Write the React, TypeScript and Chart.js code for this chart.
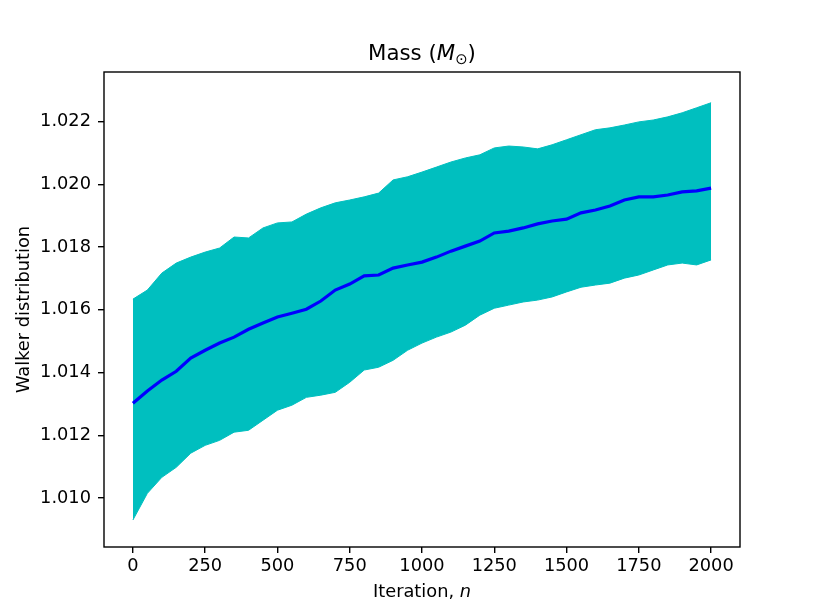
import React, { useEffect, useRef } from 'react';
import { Chart, registerables } from 'chart.js';

Chart.register(...registerables);

// iteration steps
const iterations = [
  0, 50, 100, 150, 200, 250, 300, 350, 400, 450,
  500, 550, 600, 650, 700, 750, 800, 850, 900, 950,
  1000, 1050, 1100, 1150, 1200, 1250, 1300, 1350, 1400, 1450,
  1500, 1550, 1600, 1650, 1700, 1750, 1800, 1850, 1900, 1950, 2000
];

// top edge of the walker spread
const upperEdge = [
  1.01634, 1.01663, 1.01717, 1.01749, 1.01768, 1.01784, 1.01797, 1.01832, 1.01829, 1.01861,
  1.01877, 1.01880, 1.01905, 1.01925, 1.01941, 1.01950, 1.01960, 1.01972, 1.02014, 1.02024,
  1.02039, 1.02055, 1.02071, 1.02084, 1.02094, 1.02116, 1.02122, 1.02119, 1.02113, 1.02126,
  1.02142, 1.02158, 1.02174, 1.02180, 1.02189, 1.02199, 1.02205, 1.02215, 1.02228, 1.02244, 1.02260
];

// bottom edge of the walker spread
const lowerEdge = [
  1.00930, 1.01015, 1.01066, 1.01098, 1.01143, 1.01168, 1.01184, 1.01210, 1.01216, 1.01248,
  1.01280, 1.01296, 1.01321, 1.01328, 1.01337, 1.01369, 1.01408, 1.01417, 1.01439, 1.01471,
  1.01494, 1.01513, 1.01529, 1.01551, 1.01583, 1.01605, 1.01615, 1.01625, 1.01631, 1.01641,
  1.01657, 1.01672, 1.01679, 1.01685, 1.01701, 1.01711, 1.01727, 1.01743, 1.01749, 1.01743, 1.01759
];

// mean of the walkers
const walkerMean = [
  1.01302, 1.01341, 1.01376, 1.01404, 1.01446, 1.01471, 1.01494, 1.01513, 1.01538, 1.01558,
  1.01577, 1.01589, 1.01602, 1.01628, 1.01663, 1.01682, 1.01708, 1.01711, 1.01733, 1.01743,
  1.01752, 1.01768, 1.01787, 1.01803, 1.01819, 1.01845, 1.01851, 1.01861, 1.01874, 1.01883,
  1.01889, 1.01909, 1.01918, 1.01931, 1.01950, 1.01960, 1.01960, 1.01966, 1.01976, 1.01979, 1.01988
];

const xTicks = [0, 250, 500, 750, 1000, 1250, 1500, 1750, 2000];
const yTicks = [1.010, 1.012, 1.014, 1.016, 1.018, 1.020, 1.022];

const FONT = "'DejaVu Sans', sans-serif";
const TICK_SIZE = 17.8;
const TITLE_SIZE = 21.3;

const toPoints = (ys: number[]) => ys.map((y, i) => ({ x: iterations[i], y }));

// title, axis labels (with mathtext-like italics) and the axes frame
const textPlugin = {
  id: 'mplText',
  afterDraw(chart: Chart) {
    const { ctx, chartArea } = chart;
    const { left, right, top, bottom } = chartArea;
    const cx = (left + right) / 2;
    ctx.save();
    ctx.strokeStyle = '#000';
    ctx.lineWidth = 1.4;
    ctx.strokeRect(left, top, right - left, bottom - top);

    ctx.fillStyle = '#000';
    ctx.textBaseline = 'alphabetic';
    ctx.textAlign = 'left';

    // title: Mass (M_odot)
    const parts = [
      { t: 'Mass (', f: `${TITLE_SIZE}px ${FONT}`, dy: 0 },
      { t: 'M', f: `italic ${TITLE_SIZE}px ${FONT}`, dy: 0 },
      { t: '\u2299', f: `${(TITLE_SIZE * 0.7).toFixed(1)}px ${FONT}`, dy: 4 },
      { t: ')', f: `${TITLE_SIZE}px ${FONT}`, dy: 0 }
    ];
    let w = 0;
    parts.forEach(p => { ctx.font = p.f; w += ctx.measureText(p.t).width; });
    let x = cx - w / 2;
    const titleY = 60;
    parts.forEach(p => {
      ctx.font = p.f;
      ctx.fillText(p.t, x, titleY + p.dy);
      x += ctx.measureText(p.t).width;
    });

    // x label: Iteration, n
    ctx.font = `${TICK_SIZE}px ${FONT}`;
    const a = 'Iteration, ';
    const wa = ctx.measureText(a).width;
    ctx.font = `italic ${TICK_SIZE}px ${FONT}`;
    const wb = ctx.measureText('n').width;
    const lx = cx - (wa + wb) / 2;
    ctx.font = `${TICK_SIZE}px ${FONT}`;
    ctx.fillText(a, lx, 597);
    ctx.font = `italic ${TICK_SIZE}px ${FONT}`;
    ctx.fillText('n', lx + wa, 597);

    // y label
    ctx.translate(29, (top + bottom) / 2);
    ctx.rotate(-Math.PI / 2);
    ctx.font = `${TICK_SIZE}px ${FONT}`;
    ctx.textAlign = 'center';
    ctx.fillText('Walker distribution', 0, 0);
    ctx.restore();
  }
};

export default function App() {
  const canvasRef = useRef<HTMLCanvasElement>(null);
  const chartRef = useRef<Chart | null>(null);

  useEffect(() => {
    if (!canvasRef.current) return;
    if (chartRef.current) chartRef.current.destroy();

    chartRef.current = new Chart(canvasRef.current, {
      type: 'line',
      data: {
        datasets: [
          {
            label: 'lower',
            data: toPoints(lowerEdge),
            borderColor: '#00bfbf',
            borderWidth: 1,
            pointRadius: 0,
            fill: false,
            order: 2
          },
          {
            label: 'upper',
            data: toPoints(upperEdge),
            borderColor: '#00bfbf',
            borderWidth: 1,
            backgroundColor: '#00bfbf',
            pointRadius: 0,
            fill: '-1',
            order: 1
          },
          {
            label: 'mean',
            data: toPoints(walkerMean),
            borderColor: '#0000ff',
            borderWidth: 3.2,
            pointRadius: 0,
            fill: false,
            order: 0
          }
        ]
      },
      options: {
        animation: false,
        responsive: true,
        maintainAspectRatio: false,
        layout: { padding: { top: 72, right: 82, left: 0, bottom: 0 } },
        plugins: {
          legend: { display: false },
          tooltip: { enabled: false },
          title: { display: false }
        },
        scales: {
          x: {
            type: 'linear',
            min: -100,
            max: 2100,
            afterBuildTicks: (s: any) => { s.ticks = xTicks.map(v => ({ value: v })); },
            afterFit: (s: any) => { s.height = 68; },
            grid: { drawOnChartArea: false, tickLength: 6, color: '#000', lineWidth: 1.4 },
            border: { display: false },
            ticks: {
              color: '#000',
              font: { family: FONT, size: TICK_SIZE },
              padding: 3,
              maxRotation: 0,
              autoSkip: false,
              callback: (v: any) => String(v)
            }
          },
          y: {
            type: 'linear',
            min: 1.00844,
            max: 1.02358,
            afterBuildTicks: (s: any) => { s.ticks = yTicks.map(v => ({ value: v })); },
            afterFit: (s: any) => { s.width = 104; },
            grid: { drawOnChartArea: false, tickLength: 6, color: '#000', lineWidth: 1.4 },
            border: { display: false },
            ticks: {
              color: '#000',
              font: { family: FONT, size: TICK_SIZE },
              padding: 7,
              autoSkip: false,
              callback: (v: any) => Number(v).toFixed(3)
            }
          }
        }
      },
      plugins: [textPlugin]
    });

    return () => {
      if (chartRef.current) {
        chartRef.current.destroy();
        chartRef.current = null;
      }
    };
  }, []);

  return (
    <div style={{ position: 'absolute', left: 0, top: 0, width: 822, height: 615, background: '#fff' }}>
      <canvas ref={canvasRef} />
    </div>
  );
}
